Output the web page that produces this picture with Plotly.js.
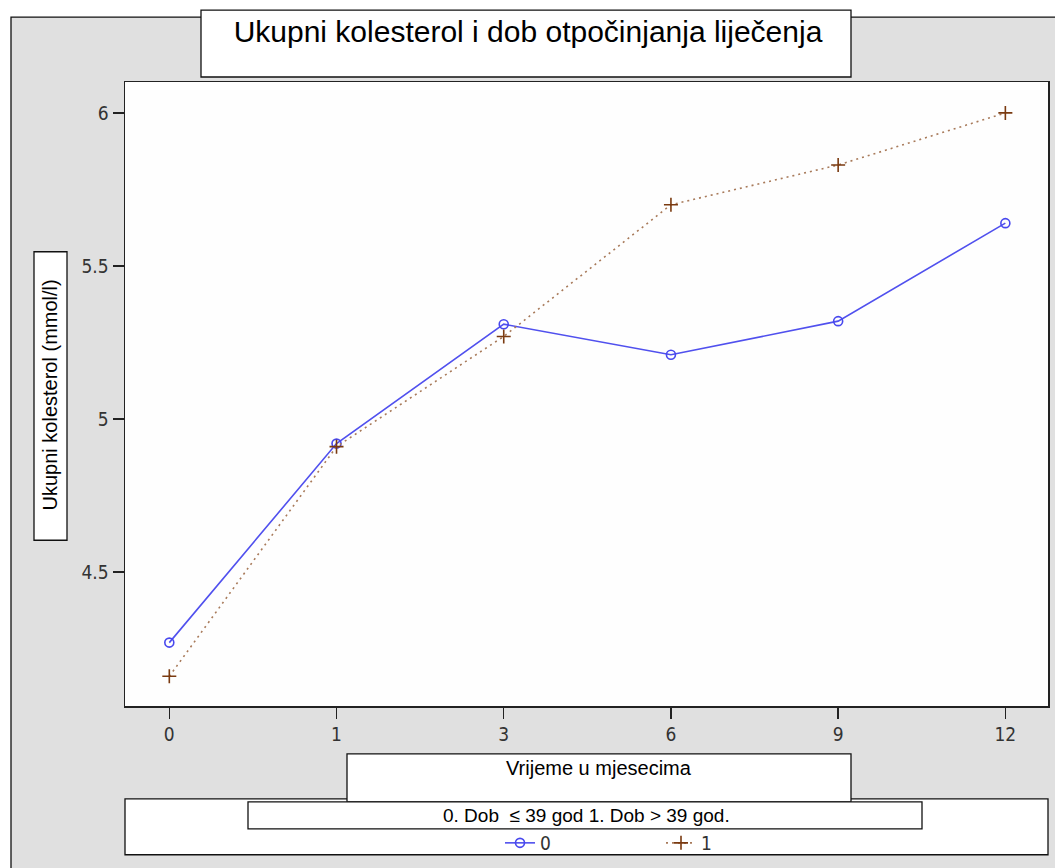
<!DOCTYPE html>
<html><head><meta charset="utf-8">
<script src="https://cdn.plot.ly/plotly-3.0.1.min.js"></script>
<style>html,body{margin:0;padding:0;background:#fff}</style>
</head><body><div id="chart" style="width:1055px;height:868px"></div>
<script>
// ---- data ----
const months = ['0', '1', '3', '6', '9', '12'];
const group0 = [4.27, 4.92, 5.31, 5.21, 5.32, 5.64];
const group1 = [4.16, 4.91, 5.27, 5.70, 5.83, 6.00];
const seriesNames = ['0', '1'];
const yTickVals = [4.5, 5, 5.5, 6];
const yTickText = ['4.5', '5', '5.5', '6'];
const chartTitle = 'Ukupni kolesterol i dob otpočinjanja liječenja';
const xTitle = 'Vrijeme u mjesecima';
const yTitle = 'Ukupni kolesterol (mmol/l)';
const legendTitle = '0. Dob&nbsp; ≤ 39 god 1. Dob > 39 god.';

// ---- layout helpers (pixel -> paper) ----
const W = 1055, H = 868, L = 125, R = 1048, T = 82, B = 707;
const px = x => (x - L) / (R - L);
const py = y => (B - y) / (B - T);
const box = (x0, y0, x1, y1, fill, layer, lw) => ({
  type: 'rect', xref: 'paper', yref: 'paper',
  x0: px(x0), x1: px(x1), y0: py(y0), y1: py(y1),
  fillcolor: fill, line: {color: '#111', width: lw === undefined ? 1.3 : lw}, layer: layer
});

const narrow = '"Liberation Sans Narrow", "DejaVu Sans Condensed", "Liberation Sans", Arial, sans-serif';
const sans = '"Liberation Sans", Arial, sans-serif';

const traces = [
  {
    x: months, y: group0, name: seriesNames[0], type: 'scatter', mode: 'lines+markers',
    line: {color: '#5050ee', width: 1.6},
    marker: {symbol: 'circle-open', size: 9, color: '#4848ee', line: {width: 1.6, color: '#4848ee'}}
  },
  {
    x: months, y: group1, name: seriesNames[1], type: 'scatter', mode: 'lines+markers',
    line: {color: '#a87a5a', width: 1.6, dash: '2px,4px'},
    marker: {symbol: 'cross-thin-open', size: 10, color: '#7a3a10', line: {width: 1.6, color: '#7a3a10'}}
  }
];

const axisCommon = {
  showline: true, linecolor: '#222', linewidth: 1.5, mirror: true,
  ticks: 'outside', ticklen: 11, tickwidth: 1.5, tickcolor: '#222',
  showgrid: false, zeroline: false, fixedrange: true,
  tickfont: {family: narrow, size: 19, color: '#333'}
};

const layout = {
  width: W, height: H,
  margin: {l: L, r: W - R, t: T, b: H - B, pad: 0},
  paper_bgcolor: '#ffffff', plot_bgcolor: '#fefefe',
  showlegend: true,
  title: {
    text: chartTitle, font: {family: sans, size: 30, color: '#000'},
    xref: 'container', yref: 'container', x: 528 / W, y: 1 - 31 / H,
    xanchor: 'center', yanchor: 'middle'
  },
  xaxis: Object.assign({}, axisCommon, {type: 'category', range: [-0.265, 5.255]}),
  yaxis: Object.assign({}, axisCommon, {range: [4.063, 6.101], tickvals: yTickVals, ticktext: yTickText}),
  legend: {
    orientation: 'h', x: px(500), xanchor: 'left', y: py(843), yanchor: 'middle',
    bgcolor: 'rgba(0,0,0,0)', font: {family: narrow, size: 19, color: '#333'},
    itemclick: false, itemdoubleclick: false, tracegroupgap: 0,
    entrywidth: 116, entrywidthmode: 'pixels'
  },
  shapes: [
    box(11, 17, 1080, 900, '#e0e0e0', 'below'),
    box(L, T, R, B, '#fefefe', 'below', 0),
    box(201, 10, 851, 77, '#ffffff', 'above'),
    box(34, 252, 67, 541, '#ffffff', 'above'),
    box(125, 800, 1048, 856, '#ffffff', 'above'),
    box(347, 755, 851, 803, '#ffffff', 'above'),
    box(248, 803, 922, 830, '#ffffff', 'above')
  ],
  annotations: [
    {text: yTitle, textangle: -90, xref: 'paper', yref: 'paper', x: px(50), y: py(396),
     showarrow: false, xanchor: 'center', yanchor: 'middle', font: {family: sans, size: 20, color: '#000'}},
    {text: xTitle, xref: 'paper', yref: 'paper', x: px(599), y: py(769),
     showarrow: false, xanchor: 'center', yanchor: 'middle', font: {family: sans, size: 20, color: '#000'}},
    {text: legendTitle, xref: 'paper', yref: 'paper', x: px(586), y: py(817),
     showarrow: false, xanchor: 'center', yanchor: 'middle', font: {family: sans, size: 19, color: '#000'}}
  ]
};

Plotly.newPlot('chart', traces, layout, {displayModeBar: false, staticPlot: true});
</script>
</body></html>
